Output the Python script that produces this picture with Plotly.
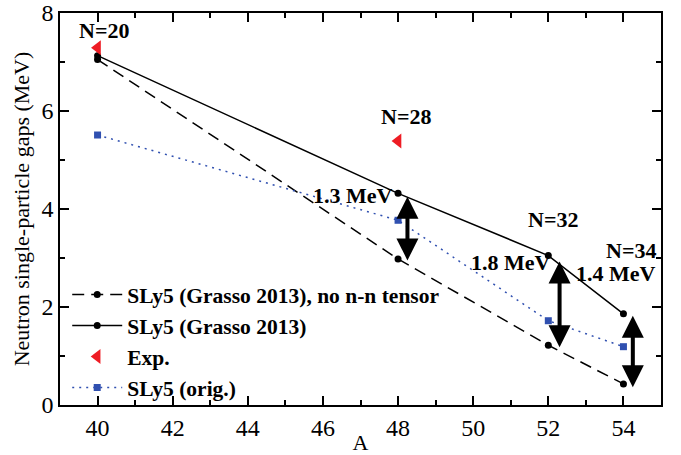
import plotly.graph_objects as go

A = [40, 48, 52, 54]
no_tensor = [7.05, 2.98, 1.22, 0.43]
grasso = [7.13, 4.32, 3.05, 1.86]
sly5_orig = [5.51, 3.77, 1.72, 1.19]
exp_A = [40, 48]
exp_gap = [7.29, 5.39]

arrow_x = [48.25, 52.3, 54.25]
arrow_top = [4.25, 2.93, 1.82]
arrow_bottom = [2.92, 1.15, 0.33]

label_text = ["N=20", "N=28", "N=32", "N=34", "1.4 MeV", "1.8 MeV", "1.3 MeV"]
label_x = [40.16, 48.2, 52.13, 54.93, 54.93, 51.0, 46.8]
label_y = [7.65, 5.88, 3.78, 3.15, 2.68, 2.9, 4.28]
label_anchor = ["center", "center", "center", "right", "right", "center", "center"]

FONT = "Liberation Serif"

fig = go.Figure()
fig.add_trace(go.Scatter(
    x=A, y=no_tensor, mode="lines+markers",
    name="SLy5 (Grasso 2013), no n-n tensor",
    line=dict(color="black", width=1.5, dash="12px,7px"),
    marker=dict(color="black", size=7, symbol="circle")))
fig.add_trace(go.Scatter(
    x=A, y=grasso, mode="lines+markers",
    name="SLy5 (Grasso 2013)",
    line=dict(color="black", width=1.5),
    marker=dict(color="black", size=7, symbol="circle")))
fig.add_trace(go.Scatter(
    x=exp_A, y=exp_gap, mode="markers", name="Exp.",
    marker=dict(color="#ee1c24", size=13, symbol="triangle-left")))
fig.add_trace(go.Scatter(
    x=A, y=sly5_orig, mode="lines+markers", name="SLy5 (orig.)",
    line=dict(color="#3050b0", width=1.5, dash="2px,5px"),
    marker=dict(color="#3050b0", size=7, symbol="square")))

for xa, yt, yb in zip(arrow_x, arrow_top, arrow_bottom):
    fig.add_annotation(x=xa, y=yt, ax=xa, ay=yb, xref="x", yref="y",
                       axref="x", ayref="y", text="", showarrow=True,
                       arrowhead=2, arrowside="end+start", arrowwidth=4,
                       arrowsize=1.1, arrowcolor="black", standoff=0, startstandoff=0)

for t, lx, ly, anc in zip(label_text, label_x, label_y, label_anchor):
    fig.add_annotation(x=lx, y=ly, xref="x", yref="y", text="<b>%s</b>" % t,
                       showarrow=False, xanchor=anc,
                       font=dict(family=FONT, size=22, color="black"))

axis_common = dict(showline=True, linecolor="black", linewidth=1.5, mirror="ticks",
                   ticks="inside", ticklen=9, tickwidth=1.5, tickcolor="black",
                   showgrid=False, zeroline=False, automargin=False,
                   tickfont=dict(family=FONT, size=24, color="black"))

fig.update_layout(
    width=681, height=455,
    margin=dict(l=60, r=20, t=13, b=50),
    plot_bgcolor="white", paper_bgcolor="white",
    xaxis=dict(range=[39, 55], dtick=2, tick0=40,
               minor=dict(dtick=1, ticks="inside", ticklen=5, tickcolor="black", tickwidth=1.5),
               title=dict(text="A", font=dict(family=FONT, size=22, color="black"), standoff=0),
               **axis_common),
    yaxis=dict(range=[0, 8], dtick=2,
               minor=dict(dtick=1, ticks="inside", ticklen=5, tickcolor="black", tickwidth=1.5),
               title=dict(text="Neutron single-particle gaps (MeV)",
                          font=dict(family=FONT, size=22, color="black"), standoff=6),
               **axis_common),
    legend=dict(x=0.012, y=-0.008, xanchor="left", yanchor="bottom",
                bgcolor="rgba(0,0,0,0)", itemwidth=50, tracegroupgap=0,
                font=dict(family=FONT, size=21.5, color="black", weight="bold")),
    showlegend=True,
)

fig.write_html("out.html", post_script="document.body.style.margin='0px';",
               config={"displayModeBar": False})
